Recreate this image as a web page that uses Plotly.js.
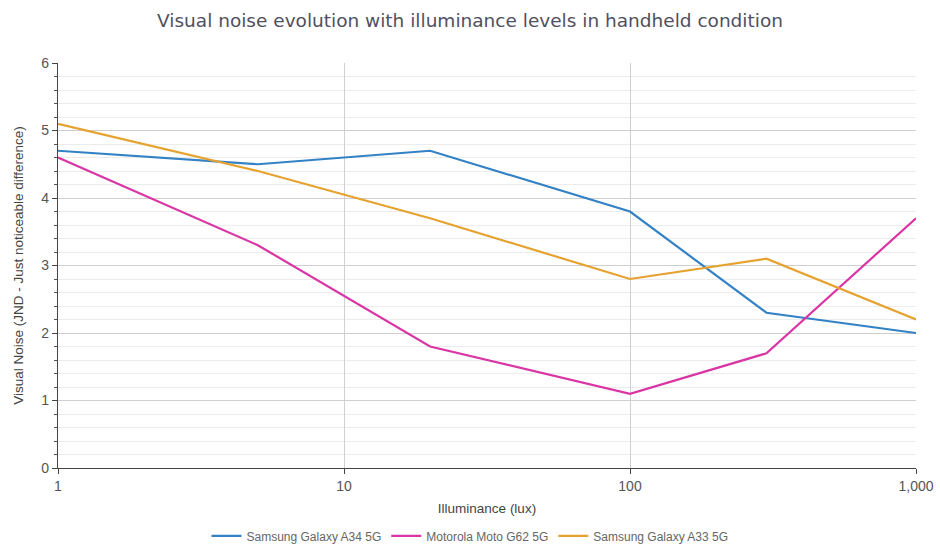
<!DOCTYPE html>
<html>
<head>
<meta charset="utf-8">
<script src="https://cdn.plot.ly/plotly-3.0.1.min.js"></script>
<style>html,body{margin:0;padding:0;background:#fff;}#chart{width:940px;height:548px;}</style>
</head>
<body>
<div id="chart"></div>
<script>
var illuminance = [1, 5, 20, 100, 300, 1000];
var seriesNames = ["Samsung Galaxy A34 5G", "Motorola Moto G62 5G", "Samsung Galaxy A33 5G"];
var galaxyA34 = [4.7, 4.5, 4.7, 3.8, 2.3, 2.0];
var motoG62 = [4.6, 3.3, 1.8, 1.1, 1.7, 3.7];
var galaxyA33 = [5.1, 4.4, 3.7, 2.8, 3.1, 2.2];
var xTickVals = [1, 10, 100, 1000];
var xTickText = ["1", "10", "100", "1,000"];
var yTickVals = [0, 1, 2, 3, 4, 5, 6];

var colors = ["#3382c5", "#d935a5", "#e6a22f"];
var values = [galaxyA34, motoG62, galaxyA33];
var traces = values.map(function (v, i) {
  return {
    x: illuminance, y: v, name: seriesNames[i], type: "scatter", mode: "lines",
    line: {color: colors[i], width: 2.2}, hoverinfo: "x+y+name"
  };
});

var tickFont = {family: "'Liberation Sans', Arial, sans-serif", size: 14, color: "#555"};
var layout = {
  width: 940, height: 548,
  margin: {l: 58, r: 24, t: 63, b: 80},
  paper_bgcolor: "#fff", plot_bgcolor: "#fff",
  font: {family: "'Liberation Sans', Arial, sans-serif", color: "#444", size: 13},
  title: {text: "Visual noise evolution with illuminance levels in handheld condition",
    font: {family: "'DejaVu Sans', sans-serif", size: 18.5, color: "#50505f"},
    x: 0.5, xanchor: "center", y: 0.963, yanchor: "middle"},
  xaxis: {
    type: "log", range: [0, 3],
    tickvals: xTickVals, ticktext: xTickText,
    showgrid: true, gridcolor: "#d0d0d0", gridwidth: 1,
    showline: true, linecolor: "#444", linewidth: 1.3,
    ticks: "outside", ticklen: 5, tickcolor: "#444",
    tickfont: tickFont,
    zeroline: false,
    title: {text: "Illuminance (lux)", font: {size: 13.5, color: "#444"}, standoff: 10}
  },
  yaxis: {
    range: [0, 6], tickvals: yTickVals,
    showgrid: true, gridcolor: "#cfcfcf", gridwidth: 1,
    showline: true, linecolor: "#444", linewidth: 1.3,
    ticks: "outside", ticklen: 5, tickcolor: "#444",
    tickfont: tickFont,
    zeroline: false,
    minor: {dtick: 0.2, showgrid: true, gridcolor: "#ececec", ticks: "outside", ticklen: 3, tickcolor: "#555"},
    title: {text: "Visual Noise (JND - Just noticeable difference)", font: {size: 13.5, color: "#444"}, standoff: 14}
  },
  showlegend: true,
  legend: {orientation: "h", x: 0.5, xanchor: "center", xref: "container",
    y: 0.022, yanchor: "middle", yref: "container",
    font: {size: 12, color: "#666"}, itemwidth: 30},
  hovermode: "closest"
};

Plotly.newPlot("chart", traces, layout, {displayModeBar: false});
</script>
</body>
</html>
